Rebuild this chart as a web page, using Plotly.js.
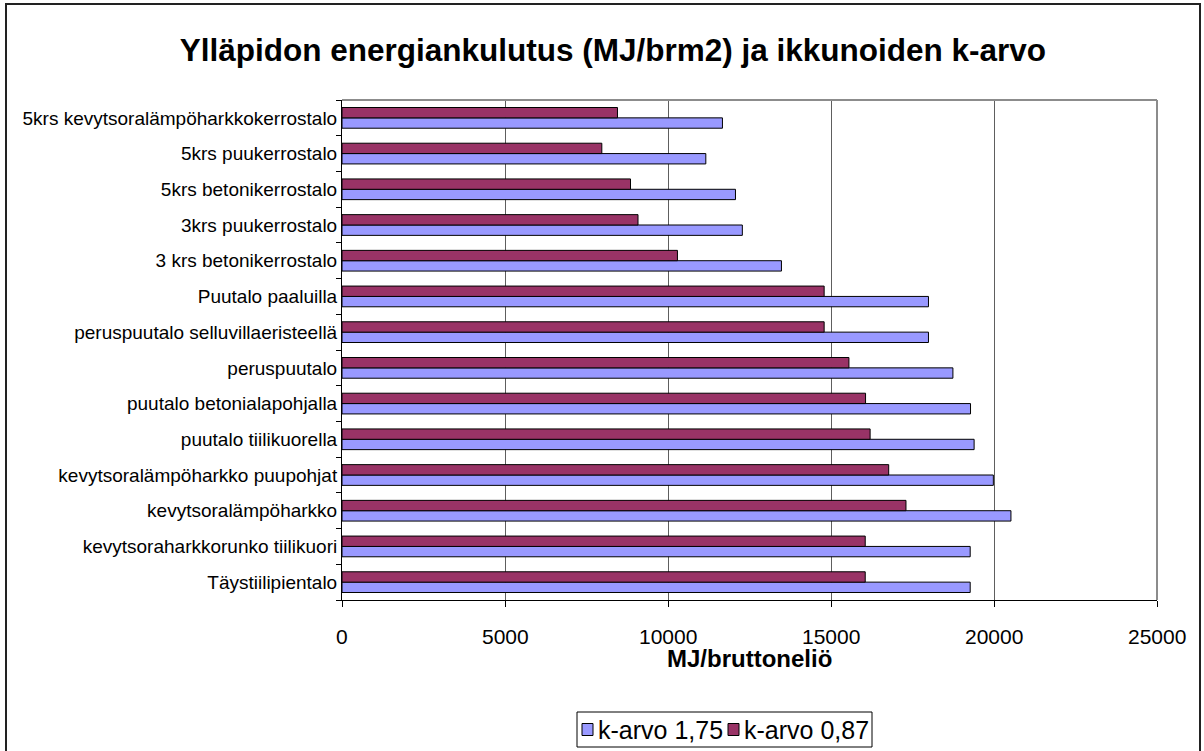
<!DOCTYPE html>
<html>
<head>
<meta charset="utf-8">
<script src="https://cdn.plot.ly/plotly-3.0.1.min.js"></script>
<style>
  html, body { margin: 0; padding: 0; background: #fff; overflow: hidden; }
  #chart { width: 1204px; height: 751px; }
  #frame { position: absolute; left: 5px; top: 3px; width: 1192px; height: 800px;
           border: 2px solid #222; pointer-events: none; }
</style>
</head>
<body>
<div id="chart"></div>
<div id="frame"></div>
<script>
// Categories listed bottom-to-top (as drawn on the category axis)
const categories = [
  "Täystiilipientalo",
  "kevytsoraharkkorunko tiilikuori",
  "kevytsoralämpöharkko",
  "kevytsoralämpöharkko puupohjat",
  "puutalo tiilikuorella",
  "puutalo betonialapohjalla",
  "peruspuutalo",
  "peruspuutalo selluvillaeristeellä",
  "Puutalo paaluilla",
  "3 krs betonikerrostalo",
  "3krs puukerrostalo",
  "5krs betonikerrostalo",
  "5krs puukerrostalo",
  "5krs kevytsoralämpöharkkokerrostalo"
];
const seriesNames = ["k-arvo 1,75", "k-arvo 0,87"];
const kArvo175 = [19270, 19270, 20520, 19980, 19390, 19280, 18740, 17990, 17990, 13480, 12280, 12070, 11160, 11670];
const kArvo087 = [16050, 16050, 17300, 16770, 16200, 16060, 15550, 14790, 14790, 10290, 9080, 8850, 7970, 8450];
const xTicks = [0, 5000, 10000, 15000, 20000, 25000];
const xTitle = "MJ/bruttoneliö";
const chartTitle = "Ylläpidon energiankulutus (MJ/brm2) ja ikkunoiden k-arvo";

const seriesColors = ['#9999FF', '#993366'];
const FONT = '"Liberation Sans", Arial, sans-serif';

// plot area in pixels
const PL = 342, PR = 1157, PT = 100, PB = 600;
const px = v => (v - PL) / (PR - PL);      // pixel x -> paper x
const py = v => (PB - v) / (PB - PT);      // pixel y -> paper y

const traces = [
  {
    type: 'bar', orientation: 'h', name: seriesNames[0],
    y: categories, x: kArvo175,
    marker: { color: seriesColors[0], line: { color: '#000000', width: 1 } },
    hoverinfo: 'x'
  },
  {
    type: 'bar', orientation: 'h', name: seriesNames[1],
    y: categories, x: kArvo087,
    marker: { color: seriesColors[1], line: { color: '#000000', width: 1 } },
    hoverinfo: 'x'
  }
];

const annotations = [];
// x tick labels
xTicks.forEach(t => annotations.push({
  x: t, xref: 'x', y: py(636), yref: 'paper',
  text: String(t), showarrow: false, xanchor: 'center', yanchor: 'middle',
  font: { family: FONT, size: 21, color: '#000000' }
}));
// x axis title
annotations.push({
  x: 0.5, xref: 'paper', y: py(658), yref: 'paper',
  text: '<b>' + xTitle + '</b>', showarrow: false, xanchor: 'center', yanchor: 'middle',
  font: { family: FONT, size: 24, color: '#000000' }
});

// custom legend (box, swatches, labels)
const legendBox = { x0: 577, x1: 872, y0: 712, y1: 747 };
const swatchX = [582, 728];
const labelX = [597, 743];
const legendMidY = 729.5;
const shapes = [
  { type: 'line', xref: 'paper', yref: 'paper', x0: 0, x1: 1, y0: 1, y1: 1,
    line: { color: '#8c8c8c', width: 2 } },
  { type: 'line', xref: 'paper', yref: 'paper', x0: 1, x1: 1, y0: 0, y1: 1,
    line: { color: '#8c8c8c', width: 2 } },
  { type: 'rect', xref: 'paper', yref: 'paper',
    x0: px(legendBox.x0), x1: px(legendBox.x1), y0: py(legendBox.y1), y1: py(legendBox.y0),
    line: { color: '#000000', width: 1 }, fillcolor: '#ffffff' }
];
seriesNames.forEach((name, i) => {
  shapes.push({ type: 'rect', xref: 'paper', yref: 'paper',
    x0: px(swatchX[i]), x1: px(swatchX[i] + 11), y0: py(legendMidY + 6), y1: py(legendMidY - 6),
    line: { color: '#000000', width: 1 }, fillcolor: seriesColors[i] });
  annotations.push({ x: px(labelX[i]), xref: 'paper', y: py(legendMidY), yref: 'paper',
    text: name, showarrow: false, xanchor: 'left', yanchor: 'middle', borderpad: 0,
    font: { family: FONT, size: 25, color: '#000000' } });
});

const layout = {
  width: 1204, height: 751,
  margin: { l: PL, r: 1204 - PR, t: PT, b: 751 - PB, pad: 0 },
  paper_bgcolor: '#ffffff', plot_bgcolor: '#ffffff',
  font: { family: FONT, color: '#000000' },
  barmode: 'group',
  bargap: 0.42,
  bargroupgap: 0,
  showlegend: false,
  title: {
    text: '<b>' + chartTitle + '</b>',
    font: { family: FONT, size: 31.5, color: '#000000' },
    x: 0.509, xref: 'container', xanchor: 'center',
    y: 53, yref: 'container', yanchor: 'middle'
  },
  xaxis: {
    range: [0, 25000],
    tickvals: xTicks,
    showticklabels: false,
    showgrid: true, gridcolor: '#5e5e5e', gridwidth: 1,
    zeroline: false,
    showline: true, linecolor: '#000000', linewidth: 1,
    ticks: 'outside', ticklen: 6, tickcolor: '#000000',
    fixedrange: true
  },
  yaxis: {
    type: 'category',
    showgrid: false, zeroline: false,
    showline: true, linecolor: '#000000', linewidth: 1,
    ticks: 'outside', ticklen: 5, tickcolor: '#000000',
    tickson: 'boundaries',
    tickfont: { family: FONT, size: 19, color: '#000000' },
    automargin: false,
    fixedrange: true
  },
  annotations: annotations,
  shapes: shapes
};

Plotly.newPlot('chart', traces, layout, { displayModeBar: false, staticPlot: true });
</script>
</body>
</html>
